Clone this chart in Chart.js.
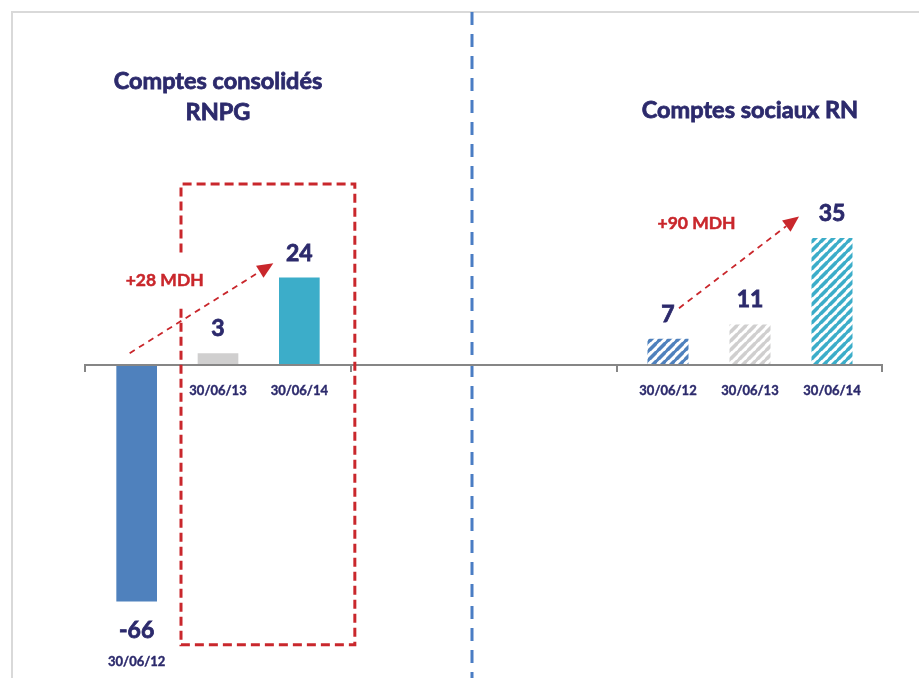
<!DOCTYPE html>
<html>
<head>
<meta charset="utf-8">
<script src="https://cdn.jsdelivr.net/npm/chart.js@4"></script>
<style>
  html, body { margin: 0; padding: 0; background: #fff; }
  #wrap { position: relative; width: 919px; height: 678px; }
  #wrap canvas { position: absolute; left: 0; top: 0; }
</style>
</head>
<body>
<div id="wrap">
  <canvas id="leftChart" width="919" height="678"></canvas>
  <canvas id="rightChart" width="919" height="678"></canvas>
</div>
<script>
// data
const dates = ["30/06/12", "30/06/13", "30/06/14"];
const rnpg = [-66, 3, 24];
const rnSociaux = [7, 11, 35];
const leftTitle = ["Comptes consolidés", "RNPG"];
const rightTitle = ["Comptes sociaux RN"];
const leftDelta = "+28 MDH";
const rightDelta = "+90 MDH";

const navy = "#2c2a6c";
const red = "#c9272c";
const colors = ["#4f81bd", "#d0cfcf", "#3cadc9"];
const font = "Lato, 'Open Sans', sans-serif";

function hatch(color) {
  const s = 9.5;
  const c = document.createElement("canvas");
  c.width = s; c.height = s;
  const g = c.getContext("2d");
  g.fillStyle = "#fff";
  g.fillRect(0, 0, s, s);
  g.strokeStyle = color;
  g.lineWidth = 3.6;
  g.beginPath();
  g.moveTo(-2, s + 2); g.lineTo(s + 2, -2);
  g.moveTo(-2, 2); g.lineTo(2, -2);
  g.moveTo(s - 2, s + 2); g.lineTo(s + 2, s - 2);
  g.stroke();
  return g.createPattern(c, "repeat");
}

// bold text with a thin outline so it looks as heavy as the original
function heavyText(ctx, txt, x, y, w) {
  ctx.fillText(txt, x, y);
  ctx.lineWidth = w;
  ctx.strokeStyle = ctx.fillStyle;
  ctx.strokeText(txt, x, y);
}

function arrow(ctx, x1, y1, x2, y2) {
  const a = Math.atan2(y2 - y1, x2 - x1);
  const hl = 16;
  const bx = x2 - hl * Math.cos(a), by = y2 - hl * Math.sin(a);
  ctx.save();
  ctx.strokeStyle = red;
  ctx.fillStyle = red;
  ctx.lineWidth = 1.8;
  ctx.setLineDash([6, 5]);
  ctx.beginPath();
  ctx.moveTo(x1, y1);
  ctx.lineTo(bx, by);
  ctx.stroke();
  ctx.setLineDash([]);
  ctx.beginPath();
  ctx.moveTo(x2, y2);
  ctx.lineTo(bx + 7 * Math.sin(a), by - 7 * Math.cos(a));
  ctx.lineTo(bx - 7 * Math.sin(a), by + 7 * Math.cos(a));
  ctx.closePath();
  ctx.fill();
  ctx.restore();
}

// labels, titles and annotations drawn on top of bars
const decorations = {
  id: "decorations",
  afterDatasetsDraw(chart, args, opts) {
    const ctx = chart.ctx;
    const y = chart.scales.y;
    const bars = chart.getDatasetMeta(0).data;
    const vals = chart.data.datasets[0].data;
    const zero = y.getPixelForValue(0);
    ctx.save();

    // value labels + date labels
    ctx.textAlign = "center";
    ctx.textBaseline = "alphabetic";
    bars.forEach((b, i) => {
      ctx.fillStyle = navy;
      ctx.font = "bold 23px " + font;
      if (vals[i] < 0) {
        heavyText(ctx, String(vals[i]), b.x, b.y + 36, 0.8);
        ctx.font = "bold 13px " + font;
        heavyText(ctx, chart.data.labels[i], b.x, b.y + 64, 0.4);
      } else {
        heavyText(ctx, String(vals[i]), b.x, b.y - 17, 0.8);
        ctx.font = "bold 13px " + font;
        heavyText(ctx, chart.data.labels[i], b.x, zero + 31, 0.4);
      }
    });

    // titles
    ctx.fillStyle = navy;
    ctx.font = "bold 23.5px " + font;
    const cx = bars[1].x;
    opts.title.forEach((t, k) => {
      const base = opts.title.length > 1 ? 89 + k * 31 : 118;
      heavyText(ctx, t, cx, base, 0.8);
    });

    // delta text
    ctx.fillStyle = red;
    ctx.font = "bold 17.5px " + font;
    heavyText(ctx, opts.delta, opts.deltaX(bars), y.getPixelForValue(opts.deltaV), 0.5);
    ctx.restore();

    // arrow
    const a = opts.arrow;
    arrow(ctx, bars[0].x + a[0], y.getPixelForValue(a[1]), bars[2].x + a[2], y.getPixelForValue(a[3]));

    if (opts.frame) {
      // border, separator, axis line, dashed box
      ctx.save();
      ctx.strokeStyle = "#d9d9d9";
      ctx.lineWidth = 2;
      ctx.beginPath();
      ctx.moveTo(12, 678); ctx.lineTo(12, 12); ctx.lineTo(919, 12);
      ctx.stroke();

      ctx.strokeStyle = "#4a7dc4";
      ctx.lineWidth = 3;
      ctx.setLineDash([13, 9]);
      ctx.beginPath();
      ctx.moveTo(472, 12); ctx.lineTo(472, 678);
      ctx.stroke();
      ctx.setLineDash([]);

      ctx.strokeStyle = "#868686";
      ctx.lineWidth = 2;
      ctx.beginPath();
      ctx.moveTo(84, zero + 1); ctx.lineTo(883, zero + 1);
      [85, 351, 617, 882].forEach(tx => { ctx.moveTo(tx, zero); ctx.lineTo(tx, zero + 8); });
      ctx.stroke();

      const bl = bars[1].x - 37, br = bars[2].x + 55.5;
      const bt = y.getPixelForValue(50), bb = y.getPixelForValue(-78);
      ctx.strokeStyle = red;
      ctx.lineWidth = 3;
      ctx.setLineDash([9, 5]);
      ctx.beginPath();
      ctx.moveTo(bl, y.getPixelForValue(31));
      ctx.lineTo(bl, bt); ctx.lineTo(br, bt); ctx.lineTo(br, bb); ctx.lineTo(bl, bb);
      ctx.lineTo(bl, y.getPixelForValue(16));
      ctx.stroke();
      ctx.restore();
    }
  }
};

function makeChart(id, values, bg, padding, opts) {
  return new Chart(document.getElementById(id), {
    type: "bar",
    data: {
      labels: dates,
      datasets: [{
        data: values,
        backgroundColor: bg,
        borderWidth: 0,
        categoryPercentage: 1,
        barPercentage: 0.5
      }]
    },
    options: {
      responsive: false,
      animation: false,
      layout: { padding: padding },
      scales: {
        x: { display: false },
        y: { display: false, min: -80, max: 50 }
      },
      plugins: {
        legend: { display: false },
        tooltip: { enabled: false },
        decorations: opts
      }
    },
    plugins: [decorations]
  });
}

makeChart("leftChart", rnpg, colors, { left: 96, right: 579, top: 184, bottom: 26 }, {
  title: leftTitle,
  delta: leftDelta,
  deltaX: bars => bars[0].x + 28,
  deltaV: 21.7,
  arrow: [-7, 3, -26, 28],
  frame: true
});

makeChart("rightChart", rnSociaux, colors.map(hatch), { left: 627, right: 46, top: 184, bottom: 26 }, {
  title: rightTitle,
  delta: rightDelta,
  deltaX: bars => bars[0].x + 28.5,
  deltaV: 37.5,
  arrow: [11, 15.5, -33, 41],
  frame: false
});
</script>
</body>
</html>
